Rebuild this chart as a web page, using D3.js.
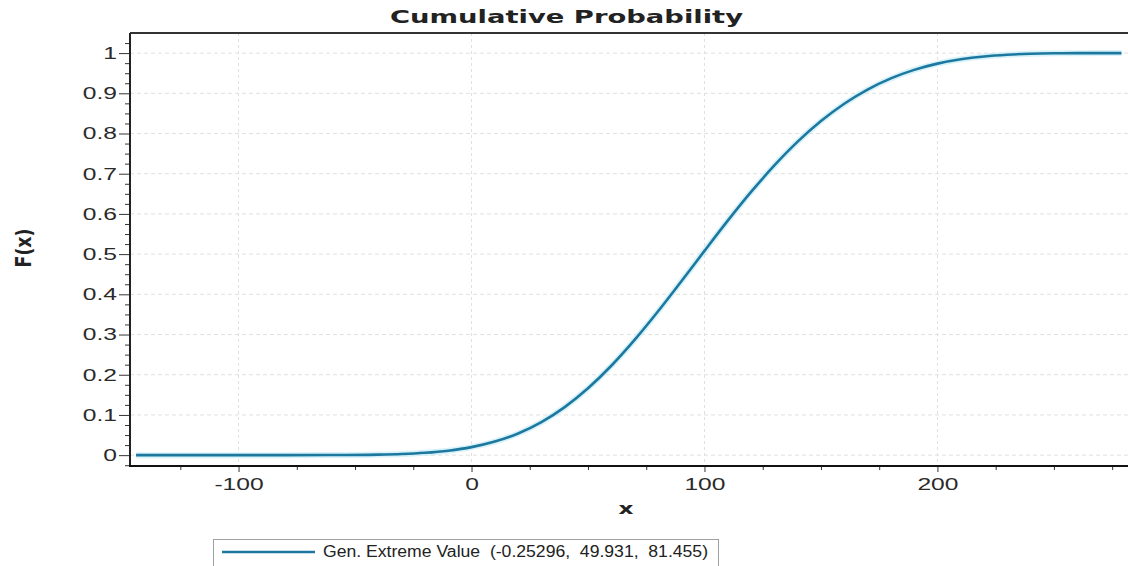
<!DOCTYPE html>
<html><head><meta charset="utf-8">
<script src="https://cdn.jsdelivr.net/npm/d3@7"></script>
<style>body{margin:0;background:#fff}svg{display:block}</style></head>
<body>
<svg id="c" width="1128" height="566"></svg>
<script>
const chartTitle = "Cumulative Probability";
const xLabel = "x";
const yLabel = "F(x)";
const legendLabel = "Gen. Extreme Value  (-0.25296,  49.931,  81.455)";
const xValues = [-144,-120,-100,-80,-60,-40,-30,-20,-10,0,10,20,30,40,50,60,70,80,90,100,110,120,130,140,150,160,170,180,190,200,210,220,230,240,250,260,270,279];
const fValues = [0,0,0,0.00002,0.0002,0.0013,0.0028,0.0058,0.0111,0.0199,0.0337,0.0539,0.0822,0.1195,0.1663,0.2223,0.2866,0.3572,0.4319,0.5081,0.5832,0.6547,0.7206,0.7797,0.8310,0.8741,0.9093,0.9371,0.9583,0.9738,0.9846,0.9917,0.9960,0.9984,0.9995,0.9999,1,1];
const xTicks = [-100,0,100,200];
const yTicks = [0,0.1,0.2,0.3,0.4,0.5,0.6,0.7,0.8,0.9,1];
const xMinorTicks = [-125,-75,-50,-25,25,50,75,125,150,175,225,250,275];
const yMinorTicks = d3.range(-1,42).map(i => +(i*0.025).toFixed(3)).filter(v => !yTicks.includes(v));

const SX = 1.45;
const FONT = "'Liberation Sans', Arial, sans-serif";
const svg = d3.select("#c");
const L = 130, R = 1128, T = 33, B = 466;
const x = d3.scaleLinear().domain([-146.6, 281.8]).range([L, R]);
const y = d3.scaleLinear().domain([-0.027, 1.05]).range([B, T]);

// grid
svg.append("g").selectAll("line").data(yTicks).join("line")
  .attr("x1", L).attr("x2", R).attr("y1", d => y(d)).attr("y2", d => y(d))
  .attr("stroke", "#e0e0e0").attr("stroke-dasharray", "4,3");
svg.append("g").selectAll("line").data(xTicks).join("line")
  .attr("y1", T).attr("y2", B).attr("x1", d => x(d)).attr("x2", d => x(d))
  .attr("stroke", "#e0e0e0").attr("stroke-dasharray", "3,3");

// clip
svg.append("clipPath").attr("id", "clip").append("rect")
  .attr("x", L).attr("y", T).attr("width", R - L).attr("height", B - T);

const line = d3.line().x((d, i) => x(xValues[i])).y(d => y(d)).curve(d3.curveMonotoneX);
const plot = svg.append("g").attr("clip-path", "url(#clip)");
plot.append("path").datum(fValues).attr("d", line)
  .attr("fill", "none").attr("stroke", "#c6ecf7").attr("stroke-width", 6).attr("opacity", 0.7);
plot.append("path").datum(fValues).attr("d", line)
  .attr("fill", "none").attr("stroke", "#1d78a0").attr("stroke-width", 2.6);

// axes
function styleAxis(g) {
  g.select(".domain").remove();
  g.selectAll(".tick line").attr("stroke", "#333");
  g.selectAll("text").attr("font-family", FONT).attr("font-size", 17).attr("fill", "#2a2a2a");
}
const plain = d => String(d);
svg.append("g").attr("transform", `translate(${L},0)`)
  .call(d3.axisLeft(y).tickValues(yMinorTicks).tickSize(5).tickFormat(""))
  .call(styleAxis);
const yAx = svg.append("g").attr("transform", `translate(${L},0)`)
  .call(d3.axisLeft(y).tickValues(yTicks).tickSize(11).tickFormat(plain))
  .call(styleAxis);
yAx.selectAll("text").attr("x", -13 / SX).attr("transform", `scale(${SX},1)`);

svg.append("g").attr("transform", `translate(0,${B})`)
  .call(d3.axisBottom(x).tickValues(xMinorTicks).tickSize(4).tickFormat(""))
  .call(styleAxis);
const xAx = svg.append("g").attr("transform", `translate(0,${B})`)
  .call(d3.axisBottom(x).tickValues(xTicks).tickSize(6).tickFormat(plain))
  .call(styleAxis);
xAx.selectAll("text").attr("y", 12).attr("transform", `scale(${SX},1)`);

// frame lines
svg.append("line").attr("x1", L).attr("x2", R).attr("y1", T).attr("y2", T).attr("stroke", "#333").attr("stroke-width", 2);
svg.append("line").attr("x1", L).attr("x2", L).attr("y1", T).attr("y2", B + 1).attr("stroke", "#222").attr("stroke-width", 2);
svg.append("line").attr("x1", L - 1).attr("x2", R).attr("y1", B).attr("y2", B).attr("stroke", "#111").attr("stroke-width", 2);

// title
svg.append("text").attr("x", 566.5).attr("y", 23).attr("text-anchor", "middle")
  .attr("font-family", "'DejaVu Sans', Verdana, sans-serif").attr("font-weight", "bold").attr("font-size", 17)
  .attr("fill", "#222").attr("textLength", 353).attr("lengthAdjust", "spacingAndGlyphs").text(chartTitle);

// axis labels
svg.append("text").attr("x", 626).attr("y", 514).attr("text-anchor", "middle")
  .attr("font-family", "'DejaVu Sans', Verdana, sans-serif").attr("font-weight", "bold").attr("font-size", 16)
  .attr("fill", "#222").attr("transform", `translate(626,0) scale(${SX},1) translate(-626,0)`).text(xLabel);
svg.append("text").attr("text-anchor", "middle")
  .attr("transform", `translate(31,248) scale(${SX},1) rotate(-90)`)
  .attr("font-family", "'DejaVu Sans', Verdana, sans-serif").attr("font-weight", "bold").attr("font-size", 15)
  .attr("fill", "#222").attr("textLength", 39).attr("lengthAdjust", "spacingAndGlyphs").text(yLabel);

// legend
const lg = svg.append("g");
lg.append("rect").attr("x", 213.5).attr("y", 539.5).attr("width", 505).attr("height", 40)
  .attr("fill", "#fff").attr("stroke", "#a0a0a0");
lg.append("line").attr("x1", 222).attr("x2", 315).attr("y1", 552).attr("y2", 552)
  .attr("stroke", "#1d78a0").attr("stroke-width", 2.6);
lg.append("text").attr("x", 323).attr("y", 557)
  .attr("font-family", FONT).attr("font-size", 16).attr("fill", "#222")
  .attr("xml:space", "preserve").style("white-space", "pre")
  .attr("textLength", 385).attr("lengthAdjust", "spacingAndGlyphs").text(legendLabel);
</script>
</body></html>
